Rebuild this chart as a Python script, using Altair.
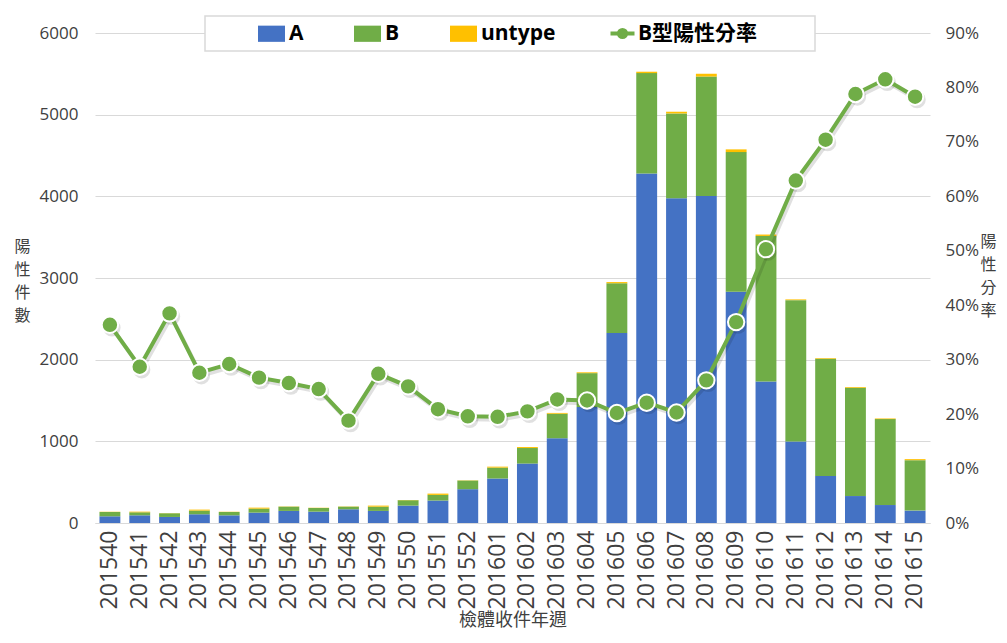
import altair as alt
import pandas as pd

weeks = ["201540", "201541", "201542", "201543", "201544", "201545", "201546",
         "201547", "201548", "201549", "201550", "201551", "201552", "201601",
         "201602", "201603", "201604", "201605", "201606", "201607", "201608",
         "201609", "201610", "201611", "201612", "201613", "201614", "201615"]
a_vals = [82, 94, 74, 107, 94, 127, 148, 139, 168, 148, 213, 275, 414, 545,
          728, 1038, 1420, 2328, 4280, 3976, 4005, 2831, 1732, 997, 575, 330, 220, 152]
b_vals = [53, 37, 45, 45, 41, 49, 52, 45, 32, 52, 66, 69, 106, 133,
          190, 300, 415, 608, 1229, 1039, 1462, 1711, 1783, 1732, 1436, 1326, 1052, 617]
u_vals = [3, 8, 2, 12, 3, 12, 3, 3, 3, 13, 3, 16, 3, 12,
          12, 10, 10, 14, 17, 21, 34, 33, 17, 9, 8, 9, 8, 13]
b_rate = [36.4, 28.7, 38.5, 27.6, 29.2, 26.7, 25.7, 24.6, 18.8, 27.4, 25.1, 20.9, 19.6, 19.5,
          20.5, 22.7, 22.5, 20.2, 22.1, 20.3, 26.2, 36.9, 50.3, 62.9, 70.4, 78.8, 81.5, 78.3]
types = ["A", "B", "untype"]
type_colors = ["#4472C4", "#70AD47", "#FFC000"]
rate_name = "B型陽性分率"
GREEN = "#70AD47"

rows = []
for i, w in enumerate(weeks):
    for k, (t, v) in enumerate(zip(types, (a_vals[i], b_vals[i], u_vals[i]))):
        rows.append({"week": w, "type": t, "count": v, "ord": k})
bars_df = pd.DataFrame(rows)
rate_df = pd.DataFrame({"week": weeks, "rate": [r / 100 for r in b_rate], "series": rate_name})

FONT = "Open Sans, Noto Sans CJK TC"
CJK = "Noto Sans CJK TC"
TXT = "#404040"

x_enc = alt.X(
    "week:N", sort=weeks,
    scale=alt.Scale(paddingInner=0.3, paddingOuter=0.15),
    axis=alt.Axis(title="檢體收件年週", labelAngle=-90, labelFont=FONT, labelFontSize=23,
                  labelColor=TXT, labelPadding=7, ticks=False, domainColor="#d9d9d9",
                  titleFont=CJK, titleFontSize=18, titleFontWeight="normal",
                  titleColor=TXT, titlePadding=3),
)

y_count = alt.Y(
    "count:Q", stack="zero",
    scale=alt.Scale(domain=[0, 6000], nice=False),
    axis=alt.Axis(values=[0, 1000, 2000, 3000, 4000, 5000, 6000], format="d",
                  labelFont=FONT, labelFontSize=17, labelColor=TXT, labelPadding=17,
                  ticks=False, domain=False, gridColor="#d9d9d9", gridWidth=1,
                  title=["陽", "性", "件", "數"], titleAngle=0, titleX=-73, titleY=213,
                  titleAlign="center", titleBaseline="middle", titleLineHeight=23,
                  titleFont=CJK, titleFontSize=16, titleFontWeight="normal", titleColor=TXT),
)

y_rate = alt.Y(
    "rate:Q",
    scale=alt.Scale(domain=[0, 0.9], nice=False),
    axis=alt.Axis(orient="right", values=[i / 10 for i in range(10)], format=".0%",
                  labelFont=FONT, labelFontSize=17, labelColor=TXT, labelPadding=15,
                  ticks=False, domain=False, grid=False,
                  title=["陽", "性", "分", "率"], titleAngle=0, titleX=58, titleY=208,
                  titleAlign="center", titleBaseline="middle", titleLineHeight=23,
                  titleFont=CJK, titleFontSize=16, titleFontWeight="normal", titleColor=TXT),
)

box = alt.Chart(pd.DataFrame({"k": [0]})).mark_rect(
    fill="white", stroke="#d9d9d9", strokeWidth=1.5
).encode(x=alt.value(110), x2=alt.value(720), y=alt.value(-17), y2=alt.value(18))

bars = alt.Chart(bars_df).mark_bar().encode(
    x=x_enc,
    y=y_count,
    color=alt.Color("type:N", scale=alt.Scale(domain=types, range=type_colors),
                    legend=alt.Legend(orient="none", legendX=163, legendY=-13, direction="horizontal",
                                      title=None, symbolType="M-1,-0.6H1V0.6H-1Z", symbolSize=729,
                                      symbolStrokeWidth=0, labelFont=FONT, labelFontSize=21,
                                      labelFontWeight="bold", labelColor="black", labelOffset=4,
                                      columnPadding=50, padding=0)),
    order=alt.Order("ord:Q"),
)

# line-with-marker legend glyph: parallel strokes for a thick line, concentric rings for a solid dot
line_glyph = ("M-1,-0.06H1M-1,0H1M-1,0.06H1"
              "M-0.06,0A0.06,0.06 0 1,1 0.06,0A0.06,0.06 0 1,1 -0.06,0Z"
              "M-0.14,0A0.14,0.14 0 1,1 0.14,0A0.14,0.14 0 1,1 -0.14,0Z"
              "M-0.22,0A0.22,0.22 0 1,1 0.22,0A0.22,0.22 0 1,1 -0.22,0Z"
              "M-0.3,0A0.3,0.3 0 1,1 0.3,0A0.3,0.3 0 1,1 -0.3,0Z"
              "M-0.36,0A0.36,0.36 0 1,1 0.36,0A0.36,0.36 0 1,1 -0.36,0Z")

line_shadow = alt.Chart(rate_df).mark_line(strokeWidth=4, color="black", opacity=0.12,
                                           xOffset=2, yOffset=3).encode(x=x_enc, y=y_rate)
pt_shadow = alt.Chart(rate_df).mark_circle(size=300, color="black", opacity=0.12,
                                           xOffset=2, yOffset=3).encode(x=x_enc, y=y_rate)
line = alt.Chart(rate_df).mark_line(strokeWidth=4).encode(
    x=x_enc, y=y_rate,
    color=alt.Color("series:N", scale=alt.Scale(domain=[rate_name], range=[GREEN]),
                    legend=alt.Legend(orient="none", legendX=514, legendY=-13, direction="horizontal",
                                      title=None, symbolType=line_glyph,
                                      symbolSize=576, symbolStrokeWidth=2.5, symbolFillColor=GREEN,
                                      labelFont=FONT, labelFontSize=21, labelFontWeight="bold",
                                      labelColor="black", labelOffset=2, padding=0)),
)
points = alt.Chart(rate_df).mark_point(filled=True, size=270, fill=GREEN, stroke="white",
                                       strokeWidth=2, opacity=1).encode(x=x_enc, y=y_rate)

rate_layer = alt.layer(line_shadow, pt_shadow, line, points)

chart = alt.layer(box, bars, rate_layer).resolve_scale(
    y="independent", color="independent"
).properties(
    width=835, height=490,
    autosize=alt.AutoSizeParams(type="none"),
    padding={"left": 87, "top": 25, "right": 69, "bottom": 112},
).configure_view(stroke=None)

chart.save("out.html", embed_options={"renderer": "svg", "actions": False})
